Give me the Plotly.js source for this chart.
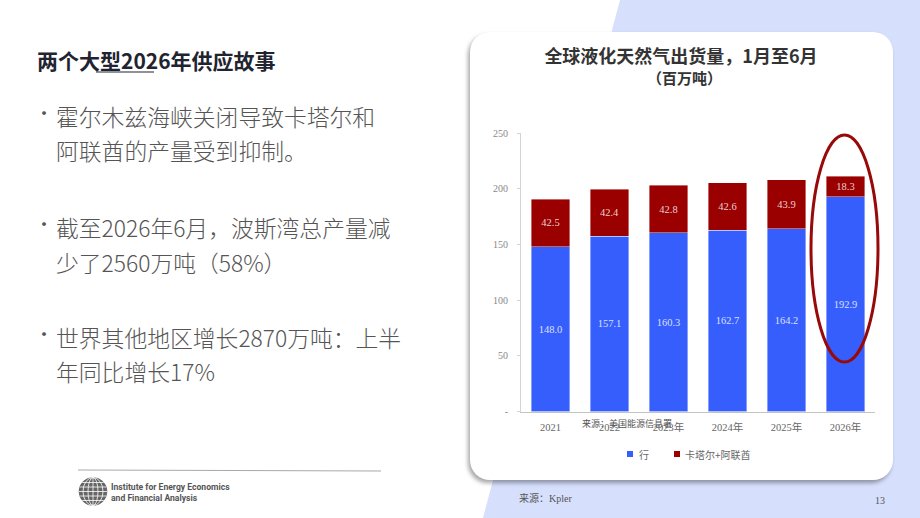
<!DOCTYPE html>
<html><head><meta charset="utf-8">
<script src="https://cdn.plot.ly/plotly-3.0.1.min.js"></script>
<style>
html,body{margin:0;padding:0;background:#fff;}
#wrap{position:relative;width:920px;height:518px;overflow:hidden;background:#fff;}
#lav{position:absolute;left:0;top:0;width:920px;height:518px;background:#d6dffc;clip-path:polygon(620px 0,920px 0,920px 518px,483px 518px);}
#card{position:absolute;left:470px;top:32px;width:423px;height:448px;background:#fff;border-radius:20px;box-shadow:-2px 3px 4px rgba(0,0,0,0.35);}
#chart{position:absolute;left:0;top:0;width:920px;height:518px;}
</style></head><body>
<div id="wrap"><div id="lav"></div><div id="card"></div><div id="chart"></div></div>
<script>
// ---- data ----
const years = ['2021','2022','2023年','2024年','2025年','2026年'];
const restOfWorld = [148.0,157.1,160.3,162.7,164.2,192.9];
const qatarUae = [42.5,42.4,42.8,42.6,43.9,18.3];
const seriesNames = ['行','卡塔尔+阿联酋'];
const yTickVals = [0,50,100,150,200,250];
const yTickText = ['-','50','100','150','200','250'];
const chartTitle = '全球液化天然气出货量，1月至6月';
const chartUnit = '（百万吨）';
const slideTitle = '两个大型2026年供应故事';
const bullets = [
  ['霍尔木兹海峡关闭导致卡塔尔和','阿联酋的产量受到抑制。'],
  ['截至2026年6月，波斯湾总产量减','少了2560万吨（58%）'],
  ['世界其他地区增长2870万吨：上半','年同比增长17%']
];
const chartSource = '来源：美国能源信息署';
const slideSource = '来源：Kpler';
const pageNo = '13';
const orgName = ['Institute for Energy Economics','and Financial Analysis'];

// ---- helpers ----
const W = 920, H = 518;
const px = x => x / W;
const py = y => 1 - y / H;
const CJK = '"Noto Sans CJK SC", "Noto Sans", sans-serif';
const SERIF = '"Liberation Serif", "Noto Sans CJK SC", serif';

const BLUE = '#365efd';
const RED = '#9a0000';
const colors = [BLUE, RED];

const traces = [restOfWorld, qatarUae].map((vals, i) => ({
  type:'bar', name: seriesNames[i], x: years, y: vals,
  marker:{color: colors[i], line:{color:'rgba(255,255,255,0.5)', width:0.8}},
  texttemplate:'%{y:.1f}', textposition:'inside', insidetextanchor:'middle',
  textangle:0, constraintext:'none',
  textfont:{family: SERIF, size:10.5, color:'rgba(255,255,255,0.82)'}
}));

const ann = [];
// slide title
ann.push({text:'<b>'+slideTitle+'</b>', x:px(35), y:py(60), xanchor:'left', yanchor:'middle',
  font:{family:CJK, size:21, color:'#1f2430'}});
// bullets
const bulletY = [[116,150],[227,262],[337,371]];
bullets.forEach((lines, i) => {
  ann.push({text:'·', x:px(44), y:py(bulletY[i][0]-4), xanchor:'center', yanchor:'middle',
    font:{family:CJK, size:18, color:'#555'}});
  lines.forEach((t, j) => {
    ann.push({text:t, x:px(54), y:py(bulletY[i][j]), xanchor:'left', yanchor:'middle',
      font:{family:CJK, size:22.8, color:'#555', weight:300}});
  });
});
// org name
ann.push({text:'<b>'+orgName[0]+'</b><br><b>'+orgName[1]+'</b>', x:px(109), y:py(492), xanchor:'left', yanchor:'middle',
  align:'left', font:{family:'Roboto, sans-serif', size:8.6, color:'#555'}});
// chart unit line
ann.push({text:'<b>'+chartUnit+'</b>', x:px(684), y:py(77), xanchor:'center', yanchor:'middle',
  font:{family:CJK, size:15, color:'#333'}});
// chart source overlay
ann.push({text:chartSource, x:px(580), y:py(423), xanchor:'left', yanchor:'middle',
  font:{family:CJK, size:9, color:'#555'}});
// custom legend labels
ann.push({text:seriesNames[0], x:px(637), y:py(454), xanchor:'left', yanchor:'middle',
  font:{family:CJK, size:10, color:'#666'}});
ann.push({text:seriesNames[1], x:px(683), y:py(454), xanchor:'left', yanchor:'middle',
  font:{family:CJK, size:10, color:'#666'}});
// footer
ann.push({text:slideSource, x:px(517), y:py(498), xanchor:'left', yanchor:'middle',
  font:{family:SERIF, size:10, color:'#555'}});
ann.push({text:pageNo, x:px(880), y:py(500), xanchor:'center', yanchor:'middle',
  font:{family:SERIF, size:10, color:'#555'}});

const shapes = [];
// underline on title
shapes.push({type:'line', xref:'paper', yref:'paper', x0:px(96), x1:px(154), y0:py(72), y1:py(72),
  line:{color:'#1f2430', width:1.2}});
// horizontal rule
shapes.push({type:'line', xref:'paper', yref:'paper', x0:px(78), x1:px(381), y0:py(470), y1:py(471),
  line:{color:'#a8a8a8', width:1}});
// globe logo
const gx = 93, gy = 491.5, gr = 14;
shapes.push({type:'circle', xref:'paper', yref:'paper', x0:px(gx-gr), x1:px(gx+gr), y0:py(gy+gr), y1:py(gy-gr),
  fillcolor:'#666', line:{color:'#555', width:0.5}});
[5, 10].forEach(w => {
  shapes.push({type:'circle', xref:'paper', yref:'paper', x0:px(gx-w), x1:px(gx+w), y0:py(gy+gr), y1:py(gy-gr),
    line:{color:'#fff', width:0.8}});
});
shapes.push({type:'line', xref:'paper', yref:'paper', x0:px(gx), x1:px(gx), y0:py(gy+gr), y1:py(gy-gr),
  line:{color:'#fff', width:0.8}});
[-9,-4.5,0,4.5,9].forEach(dy => {
  const hw = Math.sqrt(gr*gr - dy*dy);
  shapes.push({type:'line', xref:'paper', yref:'paper', x0:px(gx-hw), x1:px(gx+hw), y0:py(gy+dy), y1:py(gy+dy),
    line:{color:'#fff', width:0.8}});
});
// custom legend swatches
shapes.push({type:'rect', xref:'paper', yref:'paper', x0:px(627), x1:px(633), y0:py(457), y1:py(451),
  fillcolor:BLUE, line:{width:0}});
shapes.push({type:'rect', xref:'paper', yref:'paper', x0:px(674), x1:px(680), y0:py(457), y1:py(451),
  fillcolor:RED, line:{width:0}});
// highlight ellipse
shapes.push({type:'circle', xref:'paper', yref:'paper', x0:px(811), x1:px(878), y0:py(362), y1:py(135),
  line:{color:'#980a0a', width:3}});

const layout = {
  width: W, height: H,
  margin:{l:0, r:0, t:0, b:0},
  paper_bgcolor:'rgba(0,0,0,0)', plot_bgcolor:'rgba(0,0,0,0)',
  title:{text:'<b>'+chartTitle+'</b>',
    x:px(681), y:py(57), xanchor:'center', yanchor:'middle', xref:'paper', yref:'paper',
    font:{family:CJK, size:18, color:'#333'}},
  barmode:'stack', bargap:0.34,
  xaxis:{domain:[px(521), px(875)], type:'category', showline:true, linecolor:'#c4c4c4', linewidth:1,
    ticks:'', showgrid:false, zeroline:false, ticklabelstandoff:6,
    tickfont:{family:SERIF, size:10.5, color:'#666'}, fixedrange:true},
  yaxis:{domain:[py(411.5), py(133)], range:[0,250], tickvals:yTickVals, ticktext:yTickText,
    showline:true, linecolor:'#d4d4d4', linewidth:1, ticks:'outside', ticklen:3, tickcolor:'#d4d4d4',
    ticklabelstandoff:7,
    showgrid:false, zeroline:false, tickfont:{family:SERIF, size:10, color:'#888'}, fixedrange:true},
  showlegend:false,
  annotations: ann.map(a => Object.assign({xref:'paper', yref:'paper', showarrow:false}, a)),
  shapes: shapes,
  hovermode:false
};

Plotly.newPlot('chart', traces, layout, {displayModeBar:false, staticPlot:true});
</script>
</body></html>
